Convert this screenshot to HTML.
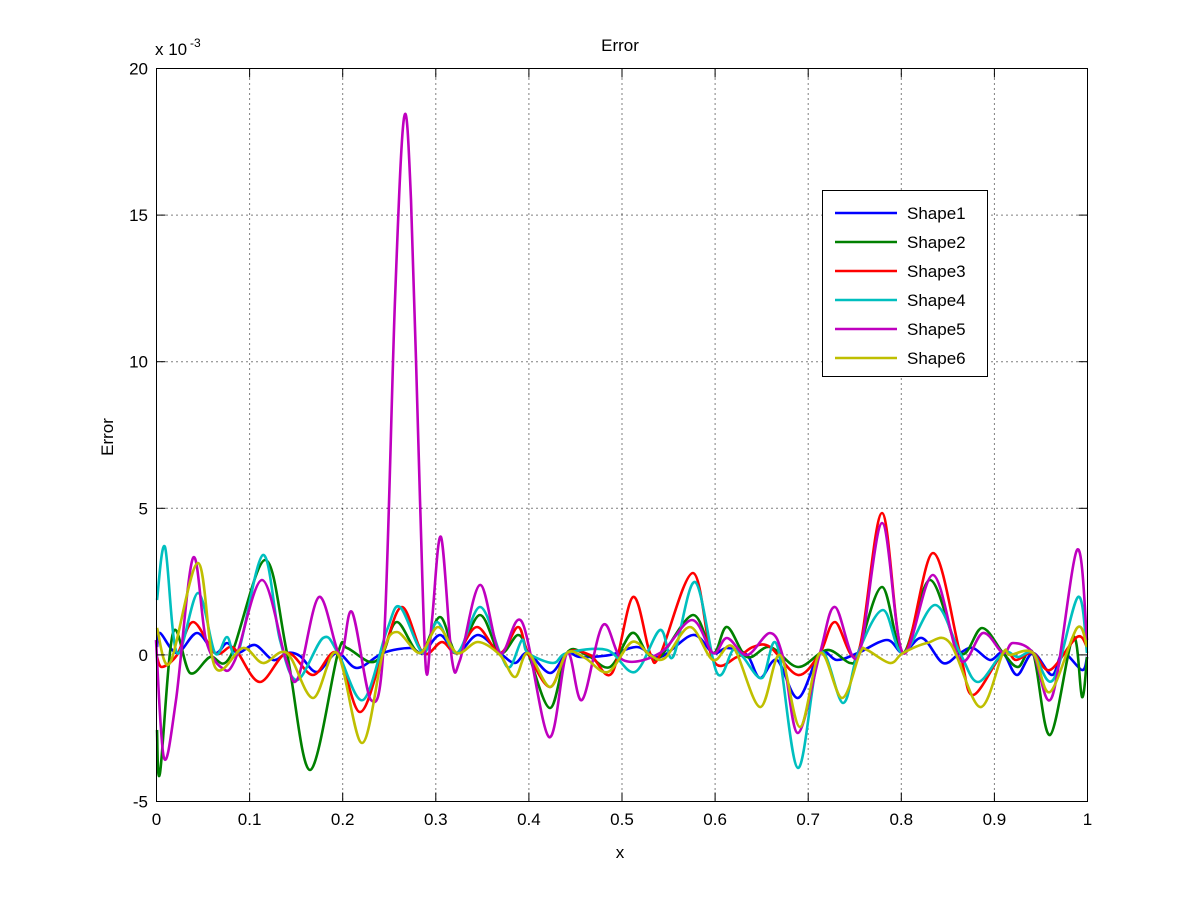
<!DOCTYPE html>
<html><head><meta charset="utf-8"><style>
body{margin:0;background:#fff;}
svg text{font-family:"Liberation Sans",Arial,sans-serif;}
</style></head><body>
<svg id="s" width="1201" height="901" xmlns="http://www.w3.org/2000/svg">
<rect width="1201" height="901" fill="#fff"/>
<g id="grid" stroke="#000" stroke-width="1" stroke-dasharray="1,4"></g>
<g id="series" fill="none" stroke-width="2.6" stroke-linejoin="round"></g>
<rect x="156.5" y="68.5" width="931" height="733" fill="none" stroke="#000" stroke-width="1"/>
<g id="ticks" stroke="#000" stroke-width="1"></g>
<g id="labels" font-size="17" fill="#000"></g>
<text x="620" y="51" font-size="17" text-anchor="middle">Error</text>
<text x="620" y="858" font-size="17" text-anchor="middle">x</text>
<text x="113" y="437" font-size="17" text-anchor="middle" transform="rotate(-90 113 437)">Error</text>
<text x="155" y="55" font-size="17">x 10</text><text x="190" y="47" font-size="12">-3</text>
<g>
<rect x="822.5" y="190.5" width="165" height="186" fill="#fff" stroke="#000"/>
<g stroke-width="2.6">
<line x1="835" y1="213" x2="897" y2="213" stroke="#0000ff"/>
<line x1="835" y1="242" x2="897" y2="242" stroke="#008000"/>
<line x1="835" y1="271" x2="897" y2="271" stroke="#ff0000"/>
<line x1="835" y1="300" x2="897" y2="300" stroke="#00bfbf"/>
<line x1="835" y1="329" x2="897" y2="329" stroke="#bf00bf"/>
<line x1="835" y1="358" x2="897" y2="358" stroke="#bfbf00"/>
</g>
<g font-size="17">
<text x="907" y="219">Shape1</text><text x="907" y="248">Shape2</text><text x="907" y="277">Shape3</text>
<text x="907" y="306">Shape4</text><text x="907" y="335">Shape5</text><text x="907" y="364">Shape6</text>
</g></g>
</svg>
<script>
var NS="http://www.w3.org/2000/svg";
function el(p,t,a,txt){var e=document.createElementNS(NS,t);for(var k in a)e.setAttribute(k,a[k]);if(txt!==undefined)e.textContent=txt;document.getElementById(p).appendChild(e);}
var x0=156.5,x1=1087.5,y0=801.5,y1=68.5;
for(var i=0;i<=10;i++){var x=x0+(x1-x0)*i/10;
 if(i>0&&i<10)el("grid","line",{x1:x,y1:y1,x2:x,y2:y0});
 el("ticks","line",{x1:x,y1:y0,x2:x,y2:y0-9});el("ticks","line",{x1:x,y1:y1,x2:x,y2:y1+9});
 el("labels","text",{x:x,y:825,"text-anchor":"middle"},i==0?"0":i==10?"1":"0."+i);}
var yl=["-5","0","5","10","15","20"];
for(var j=0;j<=5;j++){var y=y0-(y0-y1)*j/5;
 if(j>0&&j<5)el("grid","line",{x1:x0,y1:y,x2:x1,y2:y});
 el("ticks","line",{x1:x0,y1:y,x2:x0+9,y2:y});el("ticks","line",{x1:x1,y1:y,x2:x1-9,y2:y});
 el("labels","text",{x:148,y:y+6,"text-anchor":"end"},yl[j]);}
var S={
"#0000ff":[[157,647],[160,633],[177,653],[197,633],[215,653],[227,643],[238,653],[255,645],[273,660],[287,653],[300,656],[317,672],[337,653],[357,668],[383,653],[410,648],[423,653],[440,635],[457,653],[478,635],[500,653],[515,663],[528,653],[550,673],[567,653],[580,657],[610,655],[637,647],[660,657],[693,635],[713,653],[727,648],[747,655],[760,678],[777,660],[798,698],[820,653],[837,660],[858,653],[887,640],[903,653],[922,638],[943,663],[960,653],[973,648],[990,660],[1003,653],[1017,675],[1033,653],[1052,675],[1063,653],[1082,670],[1087,657]],
"#008000":[[157,730],[160,773],[173,633],[190,673],[210,657],[230,657],[265,560],[287,653],[310,770],[338,653],[347,648],[370,662],[383,653],[397,622],[420,653],[440,617],[457,653],[480,615],[500,653],[518,635],[528,653],[550,708],[567,653],[587,655],[610,667],[632,633],[647,653],[660,657],[693,615],[713,653],[727,627],[747,657],[770,647],[798,667],[827,650],[850,663],[858,653],[882,587],[903,653],[930,580],[960,653],[982,628],[1003,653],[1018,667],[1033,653],[1050,735],[1073,637],[1082,697],[1087,657]],
"#ff0000":[[157,657],[162,667],[177,655],[193,622],[215,653],[230,647],[238,653],[260,682],[287,653],[313,675],[337,653],[360,712],[383,653],[402,607],[423,653],[442,642],[457,653],[477,627],[500,653],[518,627],[528,653],[550,687],[567,653],[590,655],[612,673],[633,597],[650,653],[660,655],[693,573],[713,660],[737,657],[753,647],[770,647],[798,675],[820,653],[835,622],[858,653],[882,513],[903,653],[933,553],[960,653],[973,695],[1003,653],[1016,660],[1033,653],[1050,670],[1077,637],[1087,647]],
"#00bfbf":[[157,600],[165,547],[177,653],[198,593],[215,653],[227,637],[238,653],[263,555],[280,640],[297,680],[323,638],[338,653],[363,700],[387,630],[400,607],[423,653],[437,622],[457,653],[480,607],[500,653],[510,667],[522,640],[528,653],[553,663],[567,653],[607,650],[635,672],[660,630],[673,657],[695,582],[717,673],[733,650],[743,657],[762,678],[777,645],[798,768],[820,653],[843,703],[858,653],[883,610],[903,653],[935,605],[960,653],[978,682],[1003,653],[1018,657],[1033,653],[1053,680],[1078,597],[1087,653]],
"#bf00bf":[[156,640],[164,758],[176,700],[193,558],[206,640],[222,668],[235,660],[262,580],[286,660],[298,678],[319,597],[340,655],[352,612],[371,700],[384,640],[395,300],[404,118],[411,200],[420,500],[426,670],[432,620],[441,537],[452,660],[460,660],[480,585],[500,653],[522,622],[549,737],[567,653],[582,700],[603,625],[623,660],[660,653],[692,620],[713,653],[727,638],[747,655],[770,633],[783,657],[798,733],[820,653],[835,607],[858,657],[882,523],[903,653],[933,575],[960,660],[983,633],[1003,653],[1013,643],[1033,653],[1052,697],[1077,550],[1087,640]],
"#bfbf00":[[157,628],[170,663],[198,563],[215,667],[243,648],[263,663],[287,653],[313,698],[337,653],[362,743],[383,653],[397,632],[420,653],[438,627],[457,653],[478,642],[500,655],[515,677],[528,653],[550,687],[567,653],[585,658],[608,672],[632,642],[650,655],[665,658],[690,627],[713,660],[733,647],[760,707],[780,655],[800,727],[820,653],[842,698],[860,653],[867,650],[890,663],[903,653],[927,643],[950,643],[980,707],[1003,653],[1010,655],[1033,653],[1050,692],[1077,628],[1087,647]]};
for(var c in S){var p=S[c];var d="M"+p[0][0]+","+p[0][1];
 for(var i=0;i<p.length-1;i++){var a=p[Math.max(0,i-1)],b=p[i],q=p[i+1],r=p[Math.min(p.length-1,i+2)];
  var c1x=b[0]+(q[0]-a[0])/6,c1y=b[1]+(q[1]-a[1])/6,c2x=q[0]-(r[0]-b[0])/6,c2y=q[1]-(r[1]-b[1])/6;
  d+=" C"+c1x.toFixed(1)+","+c1y.toFixed(1)+" "+c2x.toFixed(1)+","+c2y.toFixed(1)+" "+q[0]+","+q[1];}
 el("series","path",{d:d,stroke:c});}
</script>
</body></html>
